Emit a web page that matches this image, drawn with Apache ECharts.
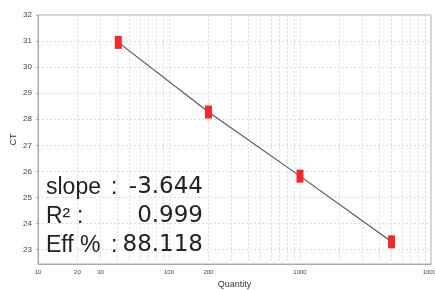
<!DOCTYPE html>
<html>
<head>
<meta charset="utf-8">
<script src="https://cdn.jsdelivr.net/npm/echarts@6/dist/echarts.min.js"></script>
<style>
  html, body { margin: 0; padding: 0; background: #fff; }
  #chart { width: 435px; height: 290px; }
</style>
</head>
<body>
<div id="chart"></div>
<script>
// standard curve data
var quantities = [41, 200, 1000, 5000];
var ctValues = [30.95, 28.28, 25.82, 23.3];

// tick labels
var xLabelValues = [10, 20, 30, 100, 200, 1000, 10000];
var xGridValues = [10, 20, 30, 40, 50, 60, 70, 80, 90,
	100, 200, 300, 400, 500, 600, 700, 800, 900,
	1000, 2000, 3000, 4000, 5000, 6000, 7000, 8000, 9000, 10000];
var yTickValues = [23, 24, 25, 26, 27, 28, 29, 30, 31, 32];

// fit summary
var statNames = ['slope', 'R\u00b2', 'Eff %'];
var statColonX = [111, 77, 111];
var statValues = ['-3.644', '0.999', '88.118'];

var myChart = echarts.init(document.getElementById('chart'));

var points = quantities.map(function(q, i) { return [q, ctValues[i]]; });

var statText = [];
for (var i = 0; i < statNames.length; i++) {
	statText.push({
		type: 'text', left: 46, top: 176 + i * 29, z: 100,
		style: { text: statNames[i], fontSize: 23, fill: '#222', fontFamily: 'Liberation Sans, Arial, sans-serif' }
	});
	statText.push({
		type: 'text', left: statColonX[i], top: 176 + i * 29, z: 100,
		style: { text: ':', fontSize: 23, fill: '#222', fontFamily: 'Liberation Sans, Arial, sans-serif' }
	});
	statText.push({
		type: 'text', right: 232, top: 176 + i * 29, z: 100,
		style: { text: statValues[i], fontSize: 23, fill: '#222', fontFamily: 'DejaVu Sans, sans-serif' }
	});
}

var option = {
	animation: false,
	textStyle: { fontFamily: 'Liberation Sans, Arial, sans-serif' },
	grid: {
		left: 38, right: 4, top: 15, bottom: 26, outerBoundsMode: 'none',
		show: true, borderColor: '#aaa', borderWidth: 1
	},
	xAxis: {
		type: 'log',
		min: 10,
		max: 10000,
		name: 'Quantity',
		nameLocation: 'middle',
		nameGap: 16,
		nameTextStyle: { fontSize: 9, color: '#333' },
		axisLine: { lineStyle: { color: '#aaa' } },
		axisTick: { show: false, customValues: xGridValues },
		axisLabel: {
			customValues: xLabelValues, fontSize: 6, color: '#444', margin: 5,
			formatter: function(v) { return String(v); }
		},
		splitLine: { show: true, lineStyle: { color: '#ddd', type: [2, 2] } }
	},
	yAxis: {
		type: 'value',
		min: 22.45,
		max: 32,
		name: 'CT',
		nameLocation: 'middle',
		nameGap: 20,
		nameMoveOverlap: false,
		nameTextStyle: { fontSize: 9, color: '#333' },
		axisLine: { show: true, lineStyle: { color: '#aaa' } },
		axisTick: { show: true, length: 2, customValues: yTickValues, lineStyle: { color: '#aaa' } },
		axisLabel: { customValues: yTickValues, fontSize: 8, color: '#444', margin: 6 },
		splitLine: { show: true, lineStyle: { color: '#ddd', type: [2, 2] } }
	},
	graphic: statText,
	series: [
		{
			type: 'line',
			data: points,
			symbol: 'none',
			lineStyle: { color: '#555', width: 1.2 },
			z: 2
		},
		{
			type: 'scatter',
			data: points,
			symbol: 'rect',
			symbolSize: [7, 13],
			itemStyle: { color: '#ee2a2a', opacity: 1 },
			z: 3
		}
	]
};

myChart.setOption(option);
</script>
</body>
</html>
